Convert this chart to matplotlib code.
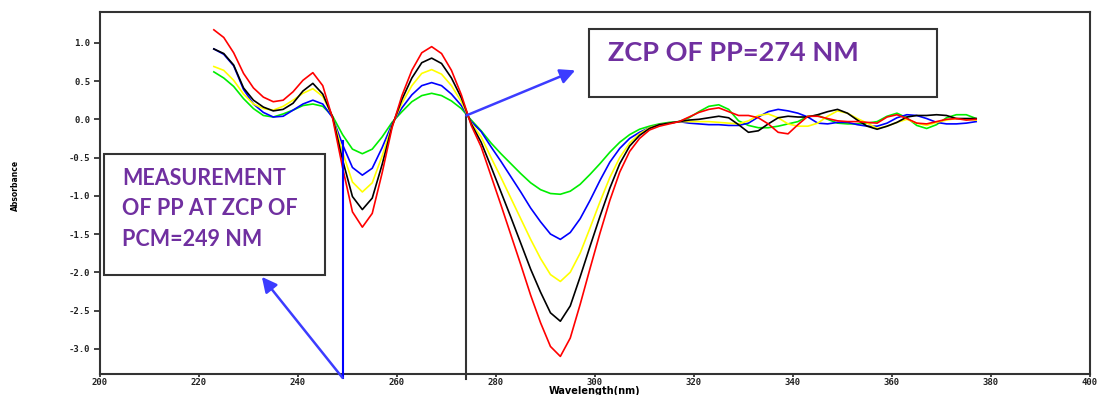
import matplotlib
matplotlib.use("Agg")
import matplotlib.pyplot as plt
from matplotlib.patches import Rectangle

wavelength = list(range(223, 378, 2))

red = [1.17, 1.07, 0.87, 0.60, 0.41, 0.29, 0.23, 0.25, 0.36, 0.51, 0.61, 0.44, 0.01,
       -0.63, -1.21, -1.41, -1.23, -0.70, -0.11, 0.31, 0.64, 0.87, 0.95, 0.86, 0.64, 0.32,
       -0.08, -0.36, -0.74, -1.12, -1.51, -1.90, -2.30, -2.66, -2.97, -3.10, -2.86, -2.42, -1.95,
       -1.49, -1.06, -0.69, -0.42, -0.25, -0.14, -0.09, -0.06, -0.03, 0.03, 0.09, 0.13, 0.15,
       0.10, 0.05, 0.05, 0.02, -0.06, -0.17, -0.19, -0.07, 0.04, 0.04, 0.01, -0.02, -0.03,
       -0.03, -0.04, -0.05, 0.03, 0.06, 0.01, -0.05, -0.06, -0.03, 0.00, 0.01, -0.01, 0.00]

black = [0.92, 0.86, 0.71, 0.41, 0.25, 0.16, 0.11, 0.13, 0.21, 0.37, 0.47, 0.33, 0.03,
         -0.53, -1.01, -1.18, -1.03, -0.59, -0.09, 0.26, 0.54, 0.74, 0.80, 0.73, 0.54, 0.28,
         -0.06, -0.30, -0.62, -0.95, -1.28, -1.62, -1.96, -2.26, -2.53, -2.64, -2.44, -2.06, -1.66,
         -1.27, -0.90, -0.58, -0.35, -0.21, -0.12, -0.07, -0.05, -0.03, -0.01, 0.00, 0.02, 0.04,
         0.02, -0.07, -0.17, -0.15, -0.06, 0.02, 0.04, 0.03, 0.03, 0.06, 0.10, 0.13, 0.08,
         -0.01, -0.09, -0.13, -0.09, -0.04, 0.03, 0.05, 0.05, 0.06, 0.05, 0.01, 0.01, 0.01]

yellow = [0.69, 0.64, 0.51, 0.33, 0.20, 0.14, 0.12, 0.17, 0.25, 0.34, 0.40, 0.30, 0.03,
          -0.43, -0.82, -0.95, -0.83, -0.48, -0.08, 0.21, 0.44, 0.60, 0.65, 0.59, 0.44, 0.23,
          -0.05, -0.23, -0.50, -0.76, -1.03, -1.30, -1.57, -1.82, -2.03, -2.12, -2.00, -1.75, -1.42,
          -1.08, -0.76, -0.50, -0.31, -0.19, -0.11, -0.07, -0.05, -0.03, -0.03, -0.03, -0.03, -0.04,
          -0.05, -0.06, -0.02, 0.05, 0.07, 0.02, -0.06, -0.09, -0.09, -0.05, 0.04, 0.11, 0.08,
          0.01, -0.05, -0.12, -0.09, -0.04, 0.00, -0.05, -0.08, -0.04, -0.01, 0.01, 0.00, -0.01]

blue = [0.92, 0.85, 0.70, 0.39, 0.20, 0.09, 0.03, 0.04, 0.12, 0.20, 0.25, 0.20, 0.02,
        -0.33, -0.63, -0.73, -0.64, -0.37, -0.06, 0.15, 0.32, 0.44, 0.48, 0.44, 0.33, 0.18,
        -0.03, -0.16, -0.36, -0.55, -0.75, -0.95, -1.16, -1.34, -1.50, -1.57, -1.48, -1.30, -1.06,
        -0.80, -0.56, -0.38, -0.25, -0.17, -0.11, -0.07, -0.05, -0.03, -0.05, -0.06, -0.07, -0.07,
        -0.08, -0.08, -0.05, 0.03, 0.10, 0.13, 0.11, 0.08, 0.03, -0.05, -0.06, -0.04, -0.04,
        -0.07, -0.09, -0.09, -0.05, 0.02, 0.06, 0.05, 0.01, -0.04, -0.06, -0.06, -0.05, -0.03]

green = [0.62, 0.54, 0.43, 0.27, 0.14, 0.05, 0.03, 0.07, 0.12, 0.18, 0.20, 0.17, 0.04,
         -0.20, -0.39, -0.45, -0.39, -0.23, -0.04, 0.10, 0.23, 0.31, 0.34, 0.31, 0.24, 0.14,
         -0.01, -0.15, -0.31, -0.45, -0.58, -0.71, -0.83, -0.92, -0.97, -0.98, -0.94, -0.85, -0.72,
         -0.58, -0.43, -0.30, -0.20, -0.13, -0.09, -0.06, -0.04, -0.03, 0.02, 0.10, 0.17, 0.19,
         0.13, -0.02, -0.08, -0.11, -0.11, -0.09, -0.06, -0.03, 0.04, 0.05, 0.00, -0.05, -0.06,
         -0.06, -0.05, -0.03, 0.04, 0.08, 0.02, -0.08, -0.12, -0.07, 0.02, 0.06, 0.06, 0.01]

series = [("green", green, "#00ee00"), ("blue", blue, "#0000ff"),
          ("yellow", yellow, "#ffff00"), ("black", black, "#000000"),
          ("red", red, "#ff0000")]

x_ticks = [200, 220, 240, 260, 280, 300, 320, 340, 360, 380, 400]
y_ticks = [1.0, 0.5, 0.0, -0.5, -1.0, -1.5, -2.0, -2.5, -3.0]
zcp_pcm = 249
zcp_pp = 274

fig = plt.figure(figsize=(10.98, 3.95), dpi=100)
ax = fig.add_axes([100/1098, 1-374/395, 990/1098, 362/395])

for name, vals, col in series:
    ax.plot(wavelength, vals, color=col, lw=1.2, zorder=3, solid_joinstyle="round")

ax.set_xlim(200, 400)
ax.set_ylim(-3.33, 1.403)
ax.set_xticks(x_ticks)
ax.set_yticks(y_ticks)
ax.set_xticklabels([str(t) for t in x_ticks])
ax.set_yticklabels(["%.1f" % t for t in y_ticks])
for lab in ax.get_xticklabels() + ax.get_yticklabels():
    lab.set_fontfamily("DejaVu Sans Mono")
    lab.set_fontweight("bold")
    lab.set_fontsize(6.5)
ax.tick_params(axis="y", direction="out", length=4, width=1.2, colors="#222222", pad=3)
ax.tick_params(axis="x", direction="out", length=2, width=1.2, colors="#222222", pad=1)
for sp in ax.spines.values():
    sp.set_linewidth(1.5)
    sp.set_color("#333333")

# vertical marker lines
ax.plot([zcp_pcm, zcp_pcm], [-0.29, -3.38], color="#0000ff", lw=1.5, clip_on=False, zorder=4)
ax.plot([zcp_pp, zcp_pp], [0.05, -3.40], color="#333333", lw=1.5, clip_on=False, zorder=4)

# arrows
arrow_kw = dict(arrowstyle="-|>,head_length=0.9,head_width=0.45", color="#3c3cff", lw=1.8,
                shrinkA=0, shrinkB=0)
ax.annotate("", xy=(296, 0.64), xytext=(zcp_pp, 0.05), arrowprops=arrow_kw,
            annotation_clip=False, zorder=5)
ax.annotate("", xy=(232.7, -2.06), xytext=(zcp_pcm, -3.38), arrowprops=arrow_kw,
            annotation_clip=False, zorder=5)

# text boxes
purple = "#7030a0"
ax.add_patch(Rectangle((298.8, 0.29), 70.3, 0.89, facecolor="white", edgecolor="#333333",
                       lw=1.5, zorder=6))
ax.text(302.6, 0.87, "ZCP OF PP=274 NM", color=purple, fontsize=19.5, fontweight="bold",
        family="Lato", va="center", ha="left", zorder=7)
ax.add_patch(Rectangle((200.8, -2.04), 44.7, 1.59, facecolor="white", edgecolor="#333333",
                       lw=1.5, zorder=6))
for txt, yy in [("MEASUREMENT", -0.77), ("OF PP AT ZCP OF", -1.16), ("PCM=249 NM", -1.57)]:
    ax.text(204.4, yy, txt, color=purple, fontsize=15.5, fontweight="bold", family="Lato",
            va="center", ha="left", zorder=7)

fig.text(595/1098, 1-386/395, "Wavelength(nm)", ha="center", va="top", fontsize=7,
         fontweight="bold", family="DejaVu Sans")
fig.text(15/1098, 1-185/395, "Absorbance", ha="center", va="center", rotation=90,
         fontsize=5.5, fontweight="bold", family="DejaVu Sans")

fig.savefig("out.png", dpi=100)
